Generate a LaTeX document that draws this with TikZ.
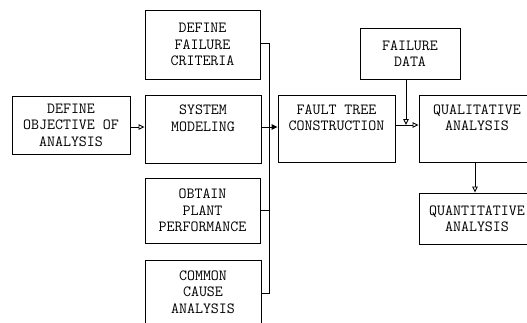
\documentclass[tikz,border=0pt]{standalone}
\usepackage{fontspec}
\usetikzlibrary{arrows.meta}
\tikzset{
  box/.style={draw, line width=0.9pt, rectangle, align=center, inner sep=0pt,
    font=\ttfamily\fontsize{15.5}{16.5}\selectfont},
  link/.style={line width=0.9pt},
  openarrow/.style={link, -{Triangle[open, length=6pt, width=5.5pt]}},
  fullarrow/.style={link, -{Triangle[length=6pt, width=5.5pt]}}
}
\begin{document}
\begin{tikzpicture}[x=1pt, y=-1pt]
  \useasboundingbox (0,0) rectangle (527,322);
  \fill[white] (0,0) rectangle (527,322);
  \clip (0,0) rectangle (527,322);

  % input boxes
  \node[box, minimum width=118, minimum height=58] (obj) at (71,125)
    {DEFINE\\OBJECTIVE OF\\ANALYSIS};
  \node[box, minimum width=115, minimum height=69] (crit) at (202.5,44.5)
    {DEFINE\\FAILURE\\CRITERIA};
  \node[box, minimum width=116, minimum height=68] (sys) at (203,129)
    {SYSTEM\\MODELING\\\strut};
  \node[box, minimum width=115, minimum height=65] (obt) at (202.5,210.5)
    {OBTAIN\\PLANT\\PERFORMANCE};
  \node[box, minimum width=116, minimum height=80, text depth=16pt] (com) at (203,300)
    {COMMON\\CAUSE\\ANALYSIS};

  % analysis chain
  \node[box, minimum width=117, minimum height=67] (ft) at (336.5,128.5)
    {FAULT TREE\\CONSTRUCTION\\\strut};
  \node[box, minimum width=100, minimum height=51] (fd) at (410,53.5)
    {FAILURE\\DATA};
  \node[box, minimum width=116, minimum height=67] (qual) at (477,128.5)
    {QUALITATIVE\\ANALYSIS\\\strut};
  \node[box, minimum width=116, minimum height=51] (quant) at (477,218.5)
    {QUANTITATIVE\\ANALYSIS};

  % collecting bus on the right of the input boxes
  \coordinate (busTop) at (269,43);
  \coordinate (busBot) at (269,293);
  \coordinate (row) at (0,127);
  \coordinate (rowB) at (0,125);

  \draw[link] (crit.east |- busTop) -- (busTop) -- (busBot) -- (com.east |- busBot);
  \draw[link] (obt.east) -- (obt.east -| busTop);
  \draw[openarrow] (obj.east |- row) -- (sys.west |- row);
  \draw[fullarrow] (sys.east |- row) -- (ft.west |- row);

  \coordinate (join) at ([xshift=-4pt]fd.south |- rowB);
  \draw[openarrow] (ft.east |- rowB) -- (qual.west |- rowB);
  \draw[openarrow] ([xshift=-4pt]fd.south) -- (join);
  \draw[openarrow] ([xshift=-2pt]qual.south) -- ([xshift=-2pt]quant.north);
\end{tikzpicture}
\end{document}
